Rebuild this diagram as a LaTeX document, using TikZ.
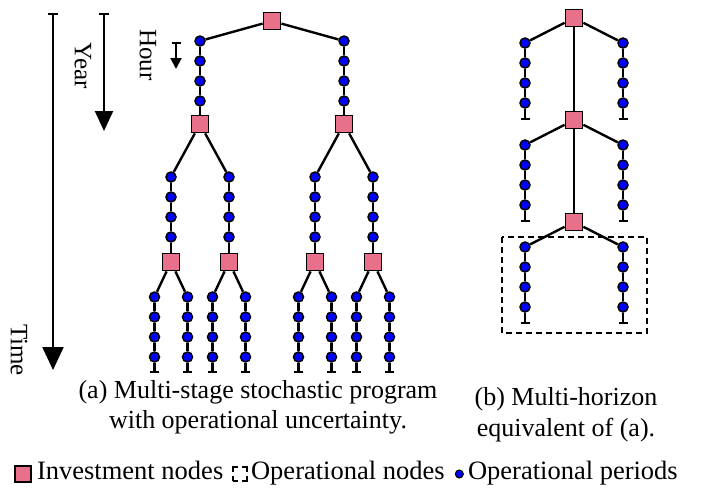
\documentclass[tikz,border=0pt]{standalone}
\usepackage{fontspec}
\setmainfont{Liberation Serif}
\usetikzlibrary{arrows.meta,positioning}
\definecolor{invpink}{RGB}{232,112,138}
\tikzset{
  inv/.style={draw=black, line width=1.8pt, fill=invpink, minimum size=17pt, inner sep=0pt},
  per/.style={circle, draw=black, line width=1.5pt, fill=blue, minimum size=10pt, inner sep=0pt},
  link/.style={line width=2.4pt},
  stub/.style={line width=2.4pt, -{Bar[width=9pt,line width=2.4pt]}},
  lbl/.style={font=\fontsize{25}{27}\selectfont, inner sep=0pt},
  captxt/.style={font=\fontsize{26}{30}\selectfont, inner sep=0pt, align=center},
  keytxt/.style={font=\fontsize{26.5}{30}\selectfont, inner sep=0pt, text height=17pt, text depth=6pt}
}
\begin{document}
\begin{tikzpicture}[x=1pt,y=-1pt]
  \useasboundingbox (0,0) rectangle (704,496);
  % Time scales
  \coordinate (t0) at (53,13);  \coordinate (t1) at (53,370);
  \coordinate (y0) at (104,13); \coordinate (y1) at (104,131);
  \coordinate (h0) at (176,42); \coordinate (h1) at (176,69);
  \draw[line width=2.2pt, {Bar[width=10pt]}-{Triangle[width=21pt,length=23pt]}] (t0) -- (t1);
  \draw[line width=2.2pt, {Bar[width=10pt]}-{Triangle[width=18pt,length=20pt]}] (y0) -- (y1);
  \draw[line width=2pt, {Bar[width=9pt]}-{Triangle[width=11pt,length=11pt]}] (h0) -- (h1);
  \node[lbl, rotate=-90] (time) at (19,350) {Time};
  \node[lbl, rotate=-90] (year) at (83,66) {Year};
  \node[lbl, rotate=-90] (hour) at (148,55) {Hour};
  % (a) first stage
  \node[inv] (r) at (272,21) {};
  \foreach \c/\x in {a/200,b/344}{
    \foreach \i/\y in {1/41,2/61,3/81,4/101}
      \node[per] (\c\i) at (\x,\y) {};
    \node[inv] (\c) at (\x,124) {};
    \draw[link] (r) -- (\c1);
    \draw[link] (\c1) -- (\c2) -- (\c3) -- (\c4) -- (\c);
  }
  % (a) second stage
  \foreach \p/\c/\x in {a/aa/171,a/ab/229,b/ba/315,b/bb/373}{
    \foreach \i/\y in {1/177,2/197,3/217,4/237}
      \node[per] (\c\i) at (\x,\y) {};
    \node[inv] (\c) at (\x,262) {};
    \draw[link] (\p) -- (\c1);
    \draw[link] (\c1) -- (\c2) -- (\c3) -- (\c4) -- (\c);
  }
  % (a) third stage, operational periods only
  \foreach \p/\x in {aa/171,ab/229,ba/315,bb/373}{
    \foreach \s/\dx in {l/-16.5,r/16.5}{
      \foreach \i/\y in {1/297,2/317,3/337,4/357}
        \node[per] (\p\s\i) at ({\x+\dx},\y) {};
      \coordinate (\p\s e) at ({\x+\dx},373);
      \draw[link] (\p) -- (\p\s1);
      \draw[link] (\p\s1) -- (\p\s2) -- (\p\s3) -- (\p\s4);
      \draw[stub] (\p\s4) -- (\p\s e);
    }
  }
  % (b) multi-horizon tree
  \foreach \k/\y in {1/18,2/120,3/222}
    \node[inv] (q\k) at (574,\y) {};
  \draw[link] (q1) -- (q2) -- (q3);
  \foreach \k/\y in {1/18,2/120,3/222}{
    \foreach \s/\x in {l/525,r/623}{
      \foreach \i/\dy in {1/25,2/45,3/65,4/85}
        \node[per] (q\k\s\i) at (\x,\y+\dy) {};
      \coordinate (q\k\s e) at (\x,\y+102);
      \draw[link] (q\k) -- (q\k\s1);
      \draw[link] (q\k\s1) -- (q\k\s2) -- (q\k\s3) -- (q\k\s4);
      \draw[stub] (q\k\s4) -- (q\k\s e);
    }
  }
  \draw[line width=2pt, dash pattern=on 6pt off 4pt] (502,237) rectangle (647,333);
  % Captions
  \node[captxt] (capa) at (258,407) {(a) Multi-stage stochastic program\\with operational uncertainty.};
  \node[captxt, font=\fontsize{26}{31}\selectfont] (capb) at (566,415) {(b) Multi-horizon\\equivalent of (a).};
  % Legend
  \node[inv, minimum size=16pt, line width=1.8pt] (linv) at (23,474) {};
  \node[keytxt, right=5pt of linv] (linvt) {Investment nodes};
  \node[draw, line width=2.4pt, dash pattern=on 5pt off 4pt on 5pt off 0pt, minimum size=14pt, inner sep=0pt, right=8pt of linvt] (lop) {};
  \node[keytxt, right=3pt of lop] (lopt) {Operational nodes};
  \node[per, minimum size=8pt, line width=1pt, right=10pt of lopt] (lper) {};
  \node[keytxt, right=4pt of lper] (lpert) {Operational periods};
\end{tikzpicture}
\end{document}
